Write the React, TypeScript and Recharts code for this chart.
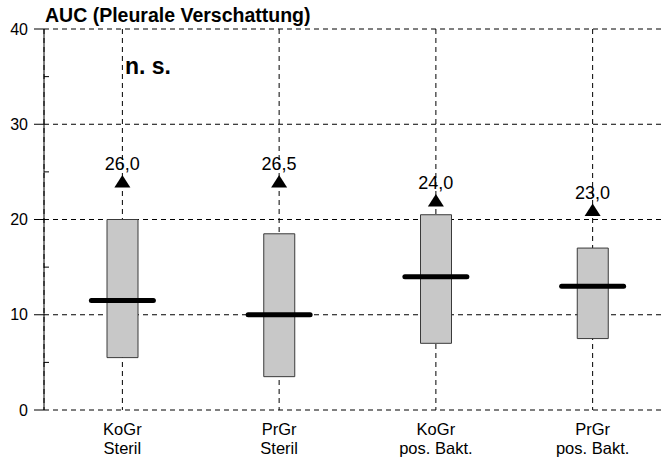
import React from "react";
import { ComposedChart, Bar, Line, XAxis, YAxis, CartesianGrid, LabelList } from "recharts";

const groupTop = ["KoGr", "PrGr", "KoGr", "PrGr"];
const groupBottom = ["Steril", "Steril", "pos. Bakt.", "pos. Bakt."];
const boxLow = [5.5, 3.5, 7, 7.5];
const boxHigh = [20, 18.5, 20.5, 17];
const medians = [11.5, 10, 14, 13];
const maxMarker = [24, 24, 22, 21];
const maxLabels = ["26,0", "26,5", "24,0", "23,0"];
const yTicks = [0, 5, 10, 15, 20, 25, 30, 35, 40];
const yMajor = [0, 10, 20, 30, 40];

const title = "AUC (Pleurale Verschattung)";
const note = "n. s.";

const data = groupTop.map((g, i) => ({
  cat: i,
  top: g,
  bottom: groupBottom[i],
  box: [boxLow[i], boxHigh[i]],
  median: medians[i],
  max: maxMarker[i],
  maxLabel: maxLabels[i],
}));

const FONT = "'Liberation Sans', Arial, Helvetica, sans-serif";
const AXIS_X = 44;

const YTick = (props: any) => {
  const { y, payload } = props;
  const v = payload.value;
  const major = yMajor.includes(v);
  if (!major) {
    return <line x1={AXIS_X} x2={AXIS_X + 5} y1={y} y2={y} stroke="#000" strokeWidth={1} />;
  }
  return (
    <g>
      <line x1={AXIS_X - 10} x2={AXIS_X} y1={y} y2={y} stroke="#000" strokeWidth={1} />
      <text x={AXIS_X - 16} y={y} dy={5.5} textAnchor="end" fontFamily={FONT} fontSize={16} fill="#000">
        {v}
      </text>
    </g>
  );
};

const XTick = (props: any) => {
  const { x, y, payload } = props;
  const i = payload.value;
  return (
    <g>
      <text x={x} y={y} dy={17} textAnchor="middle" fontFamily={FONT} fontSize={16.5} fill="#000">
        {groupTop[i]}
      </text>
      <text x={x} y={y} dy={36} textAnchor="middle" fontFamily={FONT} fontSize={16.5} fill="#000">
        {groupBottom[i]}
      </text>
    </g>
  );
};

const MedianDot = (props: any) => {
  const { cx, cy } = props;
  if (cx == null || cy == null) return null;
  return (
    <line x1={cx - 31} x2={cx + 31} y1={cy} y2={cy} stroke="#000" strokeWidth={5} strokeLinecap="round" />
  );
};

const TriangleDot = (props: any) => {
  const { cx, cy } = props;
  if (cx == null || cy == null) return null;
  return <polygon points={`${cx},${cy - 6.5} ${cx - 8},${cy + 6} ${cx + 8},${cy + 6}`} fill="#000" />;
};

const MaxLabel = (props: any) => {
  const { x, y, value } = props;
  return (
    <text x={x} y={y} dy={-11} textAnchor="middle" fontFamily={FONT} fontSize={18} fill="#000">
      {value}
    </text>
  );
};

export default function App() {
  return (
    <div style={{ position: "absolute", left: 0, top: 0, width: 665, height: 458, overflow: "hidden", background: "#fff" }}>
      <ComposedChart
        width={671}
        height={458}
        data={data}
        margin={{ top: 29, right: 0, bottom: 0, left: 0 }}
      >
        <CartesianGrid stroke="#000" strokeDasharray="5 4" strokeWidth={1} horizontalValues={yMajor} />
        <XAxis
          dataKey="cat"
          type="category"
          height={48}
          axisLine={false}
          tickLine={false}
          tick={<XTick />}
          interval={0}
        />
        <YAxis
          type="number"
          domain={[0, 40]}
          ticks={yTicks}
          interval={0}
          width={44}
          axisLine={{ stroke: "#000", strokeWidth: 1 }}
          tickLine={false}
          tick={<YTick />}
        />
        <Bar dataKey="box" barSize={31} fill="#c8c8c8" stroke="#3a3a3a" strokeWidth={1} isAnimationActive={false} />
        <Line dataKey="median" stroke="none" dot={<MedianDot />} activeDot={false} isAnimationActive={false} />
        <Line dataKey="max" stroke="none" dot={<TriangleDot />} activeDot={false} isAnimationActive={false}>
          <LabelList dataKey="maxLabel" content={<MaxLabel />} />
        </Line>
      </ComposedChart>
      <div style={{ position: "absolute", left: 45, top: 3, fontFamily: FONT, fontWeight: "bold", fontSize: 19.5, lineHeight: "24px", color: "#000", whiteSpace: "nowrap" }}>
        {title}
      </div>
      <div style={{ position: "absolute", left: 125, top: 52, fontFamily: FONT, fontWeight: "bold", fontSize: 23, lineHeight: "28px", color: "#000", whiteSpace: "nowrap" }}>
        {note}
      </div>
    </div>
  );
}
